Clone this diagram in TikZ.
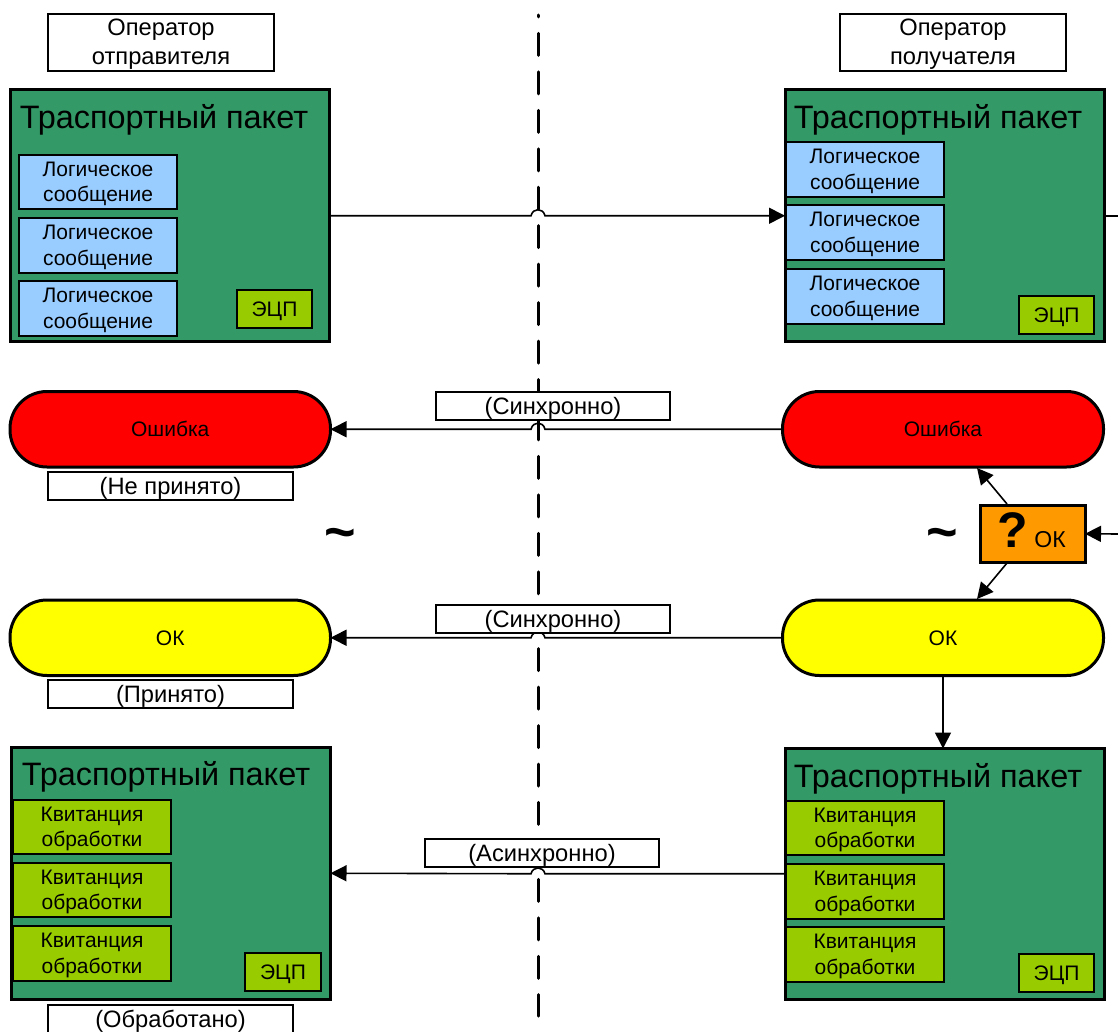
\documentclass[tikz,border=0pt]{standalone}
\usepackage{fontspec}
\setmainfont{Liberation Sans}
\usetikzlibrary{arrows.meta}
\definecolor{pkgreen}{HTML}{339966}
\definecolor{msgblue}{HTML}{99CCFF}
\definecolor{lime}{HTML}{99CC00}
\definecolor{amber}{HTML}{FF9900}
\definecolor{purered}{HTML}{FF0000}
\definecolor{pureyel}{HTML}{FFFF00}
\newcommand{\nd}[7]{%
  \node[#1,minimum width={(#5-#3)*1pt-\pgflinewidth},minimum height={(#6-#4)*1pt-\pgflinewidth}] (#2) at ({(#3+#5)/2},{(#4+#6)/2}) {};
  \node[#1,draw=none,fill=none,yshift=-2pt] (#2t) at ({(#3+#5)/2},{(#4+#6)/2}) {#7};}
\newcommand{\fs}[2]{\fontsize{#1}{#2}\selectfont}
\newcommand{\msg}{Логическое\\сообщение}
\newcommand{\rcpt}{Квитанция\\обработки}
\newcommand{\lift}[1]{\raisebox{0pt}[11pt][0pt]{#1}}
\tikzset{
  base/.style={draw=black,inner sep=0pt,outer sep=0pt,align=center,text=black},
  plabel/.style={base,fill=white,line width=2pt,font=\fs{23.7}{29}},
  packet/.style={base,fill=pkgreen,line width=3pt},
  ptitle/.style={font=\fs{32.4}{36},inner sep=0pt,yshift=-2pt},
  msgbox/.style={base,fill=msgblue,line width=2pt,font=\fs{21}{25.5}},
  rcptbox/.style={base,fill=lime,line width=2pt,font=\fs{21}{25.5}},
  signbox/.style={base,fill=lime,line width=2pt,font=\fs{21}{24}},
  pillred/.style={base,fill=purered,line width=3pt,rounded corners=37pt,font=\fs{21}{24}},
  pillyel/.style={base,fill=pureyel,line width=3pt,rounded corners=37pt,font=\fs{21}{24}},
  conn/.style={draw=black,line width=1.6pt,-{Triangle[length=16pt,width=16pt]}},
  wave/.style={font=\fs{54}{54}\bfseries,inner sep=0pt},
  axis/.style={draw=black,line width=3pt,line cap=round,dash pattern=on 22pt off 16.45pt,dash phase=20pt}
}
\begin{document}
\begin{tikzpicture}[x=1pt,y=-1pt]
\useasboundingbox (0,0) rectangle (1118,1032);
% axis
\coordinate (axt) at (538,15);
\coordinate (axb) at (538,1016);
\draw[axis] (axt) -- (axb);
% operators
\nd{plabel}{opL}{47}{13}{275}{72}{Оператор\\отправителя}
\nd{plabel}{opR}{839}{13}{1067}{72}{Оператор\\получателя}
% packet TL
\nd{packet}{pTL}{9}{88.5}{331}{343}{}
\node[ptitle] (tTL) at (164,118) {Траспортный пакет};
\nd{msgbox}{mTL1}{18}{154}{178}{210}{\msg}
\nd{msgbox}{mTL2}{18}{217}{178}{274}{\msg}
\nd{msgbox}{mTL3}{18}{280}{178}{337}{\msg}
\nd{signbox}{sTL}{236}{289}{313}{329}{ЭЦП}
% packet TR
\nd{packet}{pTR}{783.5}{88.5}{1105.5}{343}{}
\node[ptitle] (tTR) at (938,118) {Траспортный пакет};
\nd{msgbox}{mTR1}{785}{141}{945}{198}{\msg}
\nd{msgbox}{mTR2}{785}{204}{945}{261}{\msg}
\nd{msgbox}{mTR3}{785}{268}{945}{325}{\msg}
\nd{signbox}{sTR}{1018}{295}{1095}{335}{ЭЦП}
% pills
\nd{pillred}{eL}{8.5}{390}{332}{468.5}{\lift{Ошибка}}
\nd{pillred}{eR}{781}{390}{1105}{468.5}{\lift{Ошибка}}
\nd{pillyel}{kL}{8.5}{598.5}{332}{677}{\lift{ОК}}
\nd{pillyel}{kR}{781}{598.5}{1105}{677}{\lift{ОК}}
% decision
\nd{base,fill=amber,line width=3pt}{q}{978.5}{503.5}{1086.5}{564}{}
\node[inner sep=0pt,font=\fs{50}{50}\bfseries] (qm) at (1013,530) {?};
\node[inner sep=0pt,font=\fs{23}{24}] (qk) at (1050,540) {ОК};
\node[wave] (wL) at (340,539) {\textasciitilde};
\node[wave] (wR) at (942,539) {\textasciitilde};
% packet BL
\nd{packet}{pBL}{10}{746}{332}{1000.5}{}
\node[ptitle] (tBL) at (166,775) {Траспортный пакет};
\nd{rcptbox}{rBL1}{12}{799}{172}{855}{\rcpt}
\nd{rcptbox}{rBL2}{12}{862}{172}{918}{\rcpt}
\nd{rcptbox}{rBL3}{12}{925}{172}{982}{\rcpt}
\nd{signbox}{sBL}{244}{952}{322}{992}{ЭЦП}
% packet BR
\nd{packet}{pBR}{783.5}{747}{1105.5}{1000.5}{}
\node[ptitle] (tBR) at (938,777) {Траспортный пакет};
\nd{rcptbox}{rBR1}{785}{800}{945}{856}{\rcpt}
\nd{rcptbox}{rBR2}{785}{863}{945}{920}{\rcpt}
\nd{rcptbox}{rBR3}{785}{926}{945}{983}{\rcpt}
\nd{signbox}{sBR}{1018}{953}{1095}{993}{ЭЦП}
% connectors
\coordinate (outR) at (1118,215.75);
\coordinate (inQ) at (1118,534);
\draw[draw=black,line width=1.6pt] (pTR.east) -- (outR);
\draw[conn] (pTL.east) -- (531,215.75) .. controls (533,207.6) and (543,207.6) .. (545,215.75) -- (pTR.west);
\draw[conn] (eR.west) -- (545,429.25) .. controls (543,421) and (533,421) .. (531,429.25) -- (eL.east);
\draw[conn] (kR.west) -- (545,637.75) .. controls (543,630) and (533,630) .. (531,637.75) -- (kL.east);
\coordinate (hopBR) at (545,873.75);
\coordinate (hopBL) at (531,873.75);
\draw[conn] (pBR.west) -- (hopBR) .. controls (543,866) and (533,866) .. (hopBL) -- (pBL.east);
\coordinate (qtop) at (1007,504);
\coordinate (qbot) at (1007,563);
\coordinate (etip) at (977,468);
\coordinate (ktip) at (977,599);
\draw[conn] (qtop) -- (etip);
\draw[conn] (qbot) -- (ktip);
\draw[conn] (inQ) -- (q.east);
\coordinate (kdrop) at (943,676.5);
\draw[conn] (kdrop) -- (kdrop |- pBR.north);
% flow labels
\nd{plabel}{lS1}{435}{391}{671}{421}{(Синхронно)}
\nd{plabel}{lS2}{435}{604}{671}{634}{(Синхронно)}
\nd{plabel}{lA}{424}{838}{660}{868}{(Асинхронно)}
\nd{plabel}{lN}{47}{471}{294}{501}{(Не принято)}
\nd{plabel}{lP}{47}{679}{294}{709}{(Принято)}
\nd{plabel}{lO}{47}{1004}{294}{1034}{(Обработано)}
\end{tikzpicture}
\end{document}
